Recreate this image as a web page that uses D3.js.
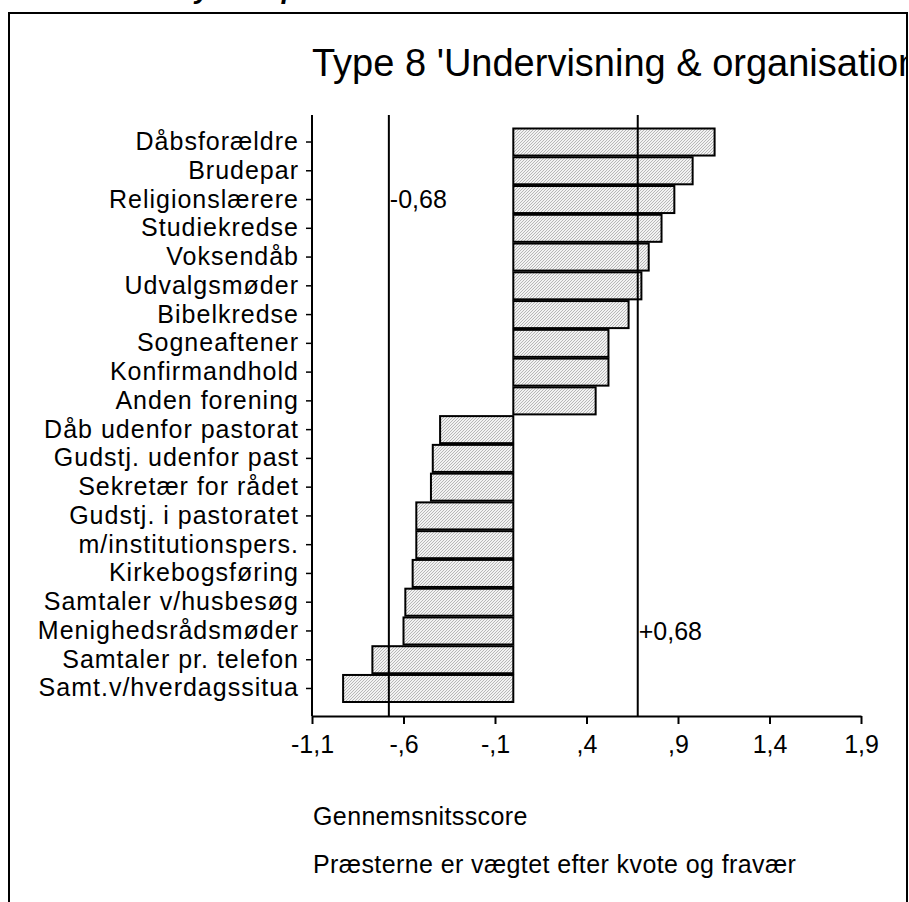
<!DOCTYPE html>
<html>
<head>
<meta charset="utf-8">
<script src="https://cdn.jsdelivr.net/npm/d3@7"></script>
<style>
 body { margin: 0; background: #fff; }
 text { font-family: Arial, "Liberation Sans", sans-serif; fill: #000; }
</style>
</head>
<body>
<div id="chart"></div>
<script>
// categories, top to bottom
var categories = ["Dåbsforældre", "Brudepar", "Religionslærere", "Studiekredse", "Voksendåb",
  "Udvalgsmøder", "Bibelkredse", "Sogneaftener", "Konfirmandhold", "Anden forening",
  "Dåb udenfor pastorat", "Gudstj. udenfor past", "Sekretær for rådet", "Gudstj. i pastoratet",
  "m/institutionspers.", "Kirkebogsføring", "Samtaler v/husbesøg", "Menighedsrådsmøder",
  "Samtaler pr. telefon", "Samt.v/hverdagssitua"];

// mean scores
var scores = [1.10, 0.98, 0.88, 0.81, 0.74, 0.70, 0.63, 0.52, 0.52, 0.45,
  -0.40, -0.44, -0.45, -0.53, -0.53, -0.55, -0.59, -0.60, -0.77, -0.93];

var xTicks = [-1.1, -0.6, -0.1, 0.4, 0.9, 1.4, 1.9];
var xTickLabels = ["-1,1", "-,6", "-,1", ",4", ",9", "1,4", "1,9"];
var refLines = [-0.68, 0.68];
var refLabels = ["-0,68", "+0,68"];
var refLabelRows = ["Religionslærere", "Menighedsrådsmøder"];

var title = "Type 8 'Undervisning & organisation";
var xTitle = "Gennemsnitsscore";
var note = "Præsterne er vægtet efter kvote og fravær";

var W = 909, H = 902;
var fs = "25px";
var svg = d3.select("#chart").append("svg")
  .attr("width", W).attr("height", H);

// hatch pattern for the bars
var pat = svg.append("defs").append("pattern")
  .attr("id", "hatch").attr("patternUnits", "userSpaceOnUse")
  .attr("width", 3).attr("height", 3);
pat.append("rect").attr("width", 3).attr("height", 3).attr("fill", "#f2f2f2");
pat.append("path").attr("d", "M0,3 L3,0 M-1,1 L1,-1 M2,4 L4,2")
  .attr("stroke", "#a8a8a8").attr("stroke-width", 0.8);

// frame
svg.append("rect")
  .attr("x", 9).attr("y", 13).attr("width", 898).attr("height", 920)
  .attr("fill", "none").attr("stroke", "#000").attr("stroke-width", 2);

// heading above the frame, cut off at the top
svg.append("text")
  .attr("x", 134).attr("y", -2)
  .style("font-size", "28px").style("font-weight", "bold").style("font-style", "italic")
  .text("Analyse af præsterne");

svg.append("clipPath").attr("id", "frameclip")
  .append("rect").attr("x", 10).attr("y", 14).attr("width", 896).attr("height", 900);

svg.append("text")
  .attr("clip-path", "url(#frameclip)")
  .attr("x", 312).attr("y", 76)
  .style("font-size", "38px")
  .text(title);

// scales
var x = d3.scaleLinear().domain([-1.1, 1.9]).range([312, 861]);
var y = d3.scaleBand().domain(categories).range([128.5, 702]).paddingInner(0.06);

var axTop = 115, axBottom = 716;

// bars
svg.selectAll(".bar")
  .data(categories)
  .enter().append("rect")
  .attr("class", "bar")
  .attr("x", function(d, i) { return x(Math.min(0, scores[i])); })
  .attr("width", function(d, i) { return Math.abs(x(scores[i]) - x(0)); })
  .attr("y", function(d) { return y(d); })
  .attr("height", y.bandwidth())
  .attr("fill", "url(#hatch)")
  .attr("stroke", "#000").attr("stroke-width", 2);

// reference lines
svg.selectAll(".ref")
  .data(refLines)
  .enter().append("line")
  .attr("x1", function(d) { return x(d); }).attr("x2", function(d) { return x(d); })
  .attr("y1", axTop).attr("y2", axBottom)
  .attr("stroke", "#000").attr("stroke-width", 2);

svg.selectAll(".reflab")
  .data(refLines)
  .enter().append("text")
  .attr("x", function(d) { return x(d) + 1; })
  .attr("y", function(d, i) { return y(refLabelRows[i]) + y.bandwidth() / 2; })
  .attr("dy", "0.35em")
  .style("font-size", fs)
  .text(function(d, i) { return refLabels[i]; });

// y axis
var yAxis = svg.append("g")
  .attr("transform", "translate(" + x(-1.1) + ",0)")
  .call(d3.axisLeft(y).tickSize(6).tickSizeOuter(0).tickPadding(7));
yAxis.select(".domain").remove();
yAxis.append("line")
  .attr("x1", 0).attr("x2", 0).attr("y1", axTop).attr("y2", axBottom)
  .attr("stroke", "#000").attr("stroke-width", 2);
yAxis.selectAll(".tick line").attr("stroke", "#000").attr("stroke-width", 1.5);
yAxis.selectAll(".tick text")
  .style("font-size", fs).style("font-family", "Arial, 'Liberation Sans', sans-serif")
  .style("letter-spacing", "1px")
  .attr("fill", "#000");

// x axis
var xAxis = svg.append("g")
  .attr("transform", "translate(0," + axBottom + ")")
  .call(d3.axisBottom(x).tickValues(xTicks).tickSize(8).tickSizeOuter(0).tickPadding(11)
    .tickFormat(function(d, i) { return xTickLabels[i]; }));
xAxis.select(".domain").attr("stroke", "#000").attr("stroke-width", 2);
xAxis.selectAll(".tick line").attr("stroke", "#000").attr("stroke-width", 2);
xAxis.selectAll(".tick text")
  .style("font-size", fs).style("font-family", "Arial, 'Liberation Sans', sans-serif")
  .attr("fill", "#000");

// footer texts
svg.append("text").attr("x", 313).attr("y", 825)
  .style("font-size", fs).style("letter-spacing", "0.4px").text(xTitle);
svg.append("text").attr("x", 313).attr("y", 873)
  .style("font-size", fs).style("letter-spacing", "0.4px").text(note);
</script>
</body>
</html>
